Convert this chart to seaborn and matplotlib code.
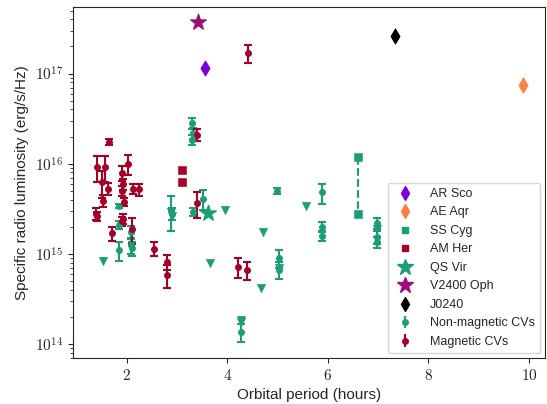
import matplotlib
matplotlib.use("Agg")
import matplotlib.pyplot as plt
from matplotlib.lines import Line2D
from matplotlib.ticker import FuncFormatter
import seaborn as sns
import numpy as np
import pandas as pd

# ---------------------------------------------------------------
# data (period in hours, luminosity in erg/s/Hz)
# ---------------------------------------------------------------
# non-magnetic CVs, detections (units of 1e15)
nm_period = [1.85, 1.85, 1.85, 2.08, 2.08, 2.10, 2.88, 2.90, 3.30, 3.32, 3.30, 3.32,
             3.52, 4.99, 4.27, 5.03, 5.03, 5.88, 5.88, 5.88, 6.98, 6.98, 6.98]
nm_lum = [1.1, 3.4, 2.1, 1.75, 1.25, 1.15, 3.1, 2.8, 28.0, 22.0, 18.5, 2.9,
          4.1, 5.0, 0.135, 0.9, 0.67, 4.8, 2.0, 1.58, 2.2, 1.55, 1.35]
nm_err = [0.27, 0.15, 0.2, 0.3, 0.25, 0.2, 1.3, 0.4, 4.0, 3.0, 2.5, 0.3,
          1.0, 0.4, 0.03, 0.2, 0.15, 1.2, 0.25, 0.2, 0.3, 0.25, 0.2]

# non-magnetic CVs, upper limits (units of 1e15)
nm_lim_period = [1.53, 2.88, 2.90, 3.66, 3.96, 4.27, 4.27, 4.67, 4.71, 5.03, 5.57, 6.98]
nm_lim_lum = [0.83, 2.9, 2.6, 0.8, 3.1, 0.185, 0.175, 0.42, 1.75, 0.7, 3.4, 1.9]

# magnetic CVs, detections (units of 1e15)
m_period = [1.65, 1.41, 1.57, 1.51, 1.63, 1.53, 1.38, 1.40, 2.03, 1.91, 1.93, 1.91,
            2.13, 2.25, 1.95, 1.93, 1.91, 2.11, 1.71, 2.55, 2.80, 2.80, 3.39, 3.40,
            4.22, 4.40, 4.42]
m_lum = [17.5, 9.3, 9.3, 6.2, 5.3, 3.9, 2.8, 2.6, 10.0, 7.9, 5.9, 5.0,
         5.3, 5.2, 3.8, 2.45, 2.3, 1.9, 1.7, 1.14, 0.82, 0.59, 3.7, 21.0,
         0.72, 0.66, 170.0]
m_err = [1.5, 3.0, 3.0, 2.0, 0.8, 0.6, 0.4, 0.3, 2.5, 1.5, 0.8, 0.6,
         0.7, 0.8, 0.4, 0.3, 0.25, 0.6, 0.3, 0.2, 0.15, 0.17, 1.2, 3.0,
         0.18, 0.15, 40.0]

# individual sources
src_names = ["AR Sco", "AE Aqr", "QS Vir", "V2400 Oph", "J0240"]
src_period = [3.56, 9.88, 3.62, 3.42, 7.33]
src_lum = [1.14e17, 7.4e16, 2.86e15, 3.7e17, 2.6e17]

sscyg_period = [6.6, 6.6]
sscyg_lum = [1.2e16, 2.76e15]
amher_period = [3.09, 3.09]
amher_lum = [8.6e15, 6.2e15]

# ---------------------------------------------------------------
# style
# ---------------------------------------------------------------
sns.set_style("ticks")
plt.rcParams['font.family'] = ['Liberation Sans', 'DejaVu Sans']
plt.rcParams['mathtext.fontset'] = 'cm'

teal = "#1b9e77"
red = "#a50026"
colors = {"AR Sco": "#7a00d9", "AE Aqr": "#ff7f45", "QS Vir": teal,
          "V2400 Oph": "#9b0f78", "J0240": "black"}
markers = {"AR Sco": "d", "AE Aqr": "d", "QS Vir": "*", "V2400 Oph": "*", "J0240": "d"}
sizes = {"AR Sco": 60, "AE Aqr": 60, "QS Vir": 140, "V2400 Oph": 140, "J0240": 60}

fig = plt.figure(figsize=(5.47, 4.04), dpi=100)
ax = fig.add_axes([0.1335, 0.114, 0.863, 0.869])

eb_kw = dict(fmt='o', ms=4, capsize=3, elinewidth=1.5, capthick=1.5, ls='none')
ax.errorbar(nm_period, np.array(nm_lum) * 1e15, yerr=np.array(nm_err) * 1e15,
            color=teal, **eb_kw)
ax.errorbar(m_period, np.array(m_lum) * 1e15, yerr=np.array(m_err) * 1e15,
            color=red, **eb_kw)

lim_df = pd.DataFrame({"period": nm_lim_period, "lum": np.array(nm_lim_lum) * 1e15})
sns.scatterplot(data=lim_df, x="period", y="lum", marker="v", s=35, color=teal,
                edgecolor=teal, ax=ax, legend=False)

# SS Cyg and AM Her
ax.plot(sscyg_period, sscyg_lum, ls='--', color=teal, lw=1.5, zorder=1)
sns.scatterplot(x=sscyg_period, y=sscyg_lum, marker="s", s=28, color=teal,
                edgecolor=teal, ax=ax, legend=False)
sns.scatterplot(x=amher_period, y=amher_lum, marker="s", s=28, color=red,
                edgecolor=red, ax=ax, legend=False)

src_df = pd.DataFrame({"name": src_names, "period": src_period, "lum": src_lum})
for _, row in src_df.iterrows():
    sns.scatterplot(x=[row.period], y=[row.lum], marker=markers[row["name"]],
                    s=sizes[row["name"]], color=colors[row["name"]],
                    edgecolor=colors[row["name"]], ax=ax, legend=False, zorder=5)

ax.set_yscale('log')
ax.set_xlim(0.93, 10.32)
ax.set_ylim(7e13, 5.5e17)
ax.set_xticks([2, 4, 6, 8, 10])
ax.xaxis.set_major_formatter(FuncFormatter(lambda v, p: r'$%d$' % v))
ax.yaxis.set_major_formatter(FuncFormatter(lambda v, p: r'$10^{%d}$' % round(np.log10(v))))
ax.tick_params(axis='both', labelsize=11)
ax.set_xlabel('Orbital period (hours)', fontsize=11)
ax.set_ylabel('Specific radio luminosity (erg/s/Hz)', fontsize=11)

# legend
handles = [
    Line2D([], [], ls='none', marker='d', ms=7, color=colors["AR Sco"]),
    Line2D([], [], ls='none', marker='d', ms=7, color=colors["AE Aqr"]),
    Line2D([], [], ls='none', marker='s', ms=5, color=teal),
    Line2D([], [], ls='none', marker='s', ms=5, color=red),
    Line2D([], [], ls='none', marker='*', ms=12, color=teal),
    Line2D([], [], ls='none', marker='*', ms=12, color=colors["V2400 Oph"]),
    Line2D([], [], ls='none', marker='d', ms=7, color="black"),
    ax.errorbar([], [], yerr=[], color=teal, **eb_kw),
    ax.errorbar([], [], yerr=[], color=red, **eb_kw),
]
labels = ["AR Sco", "AE Aqr", "SS Cyg", "AM Her", "QS Vir", "V2400 Oph", "J0240",
          "Non-magnetic CVs", "Magnetic CVs"]
ax.legend(handles, labels, loc='lower right', fontsize=9, frameon=True,
          handletextpad=1.0, labelspacing=0.52, borderaxespad=0.4)

fig.savefig('out.png', dpi=100)
